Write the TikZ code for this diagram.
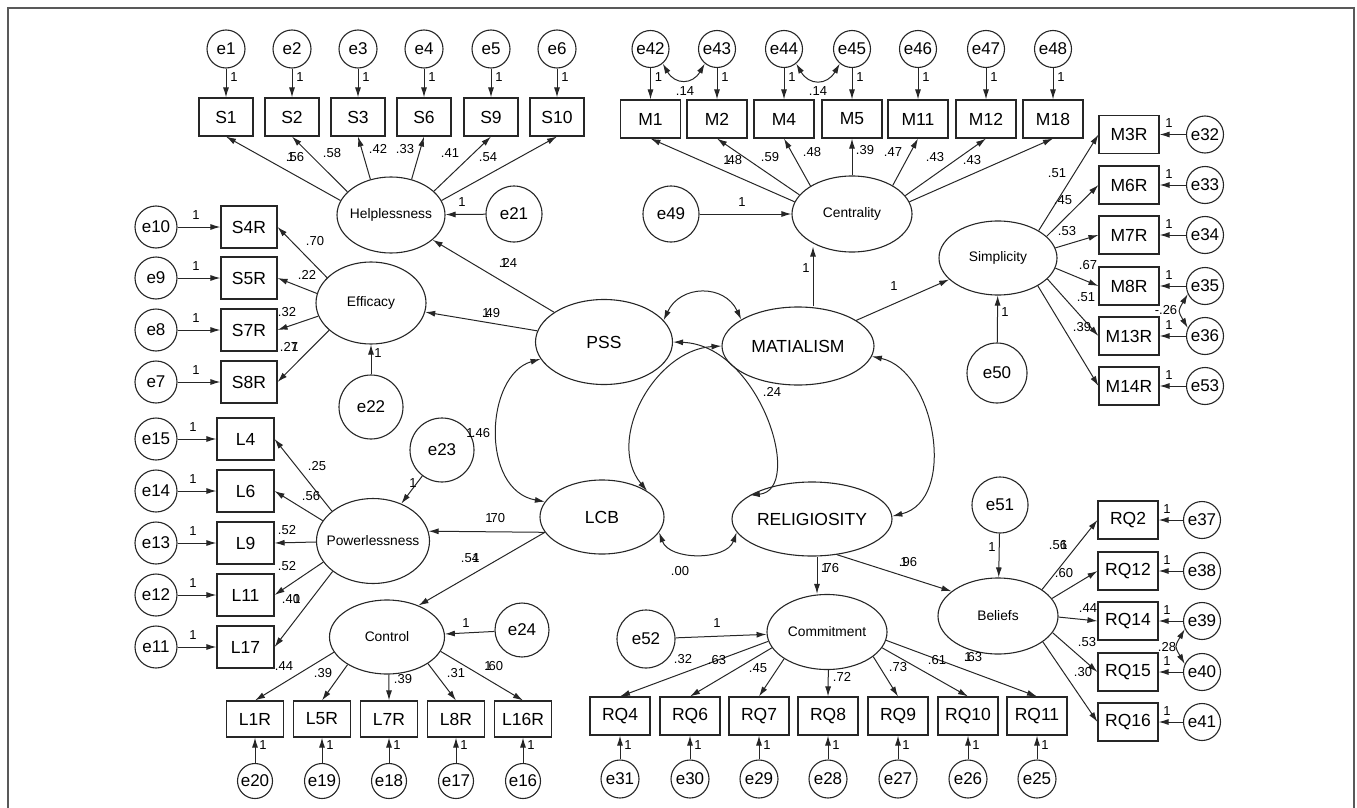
\documentclass[tikz,border=0pt]{standalone}
\usepackage{fontspec}
\setmainfont{Liberation Sans}
\usetikzlibrary{shapes.geometric,arrows.meta}
\newcount\labc
\newcommand\Lab[2]{\global\advance\labc by 1\relax\node[lab] (lab\the\labc) at (#1) {#2};}
\begin{document}
\begin{tikzpicture}[x=1pt,y=-1pt,
  lat/.style={ellipse, draw=black!85, line width=1.1pt, inner sep=0pt},
  err/.style={circle, draw=black!85, line width=1.1pt, inner sep=0pt},
  obs/.style={rectangle, draw=black!85, line width=1.1pt, inner sep=0pt, font=\fontsize{17.5}{18}\selectfont},
  lab/.style={inner sep=0pt, font=\fontsize{13}{13}\selectfont},
  efont/.style={font=\fontsize{17}{17}\selectfont},
  bigf/.style={font=\fontsize{17.5}{18}\selectfont},
  midf/.style={font=\fontsize{13.8}{14}\selectfont},
  arr/.style={line width=1pt, draw=black!85, -{Latex[length=10pt,width=6pt]}},
  cov/.style={line width=1pt, draw=black!85, {Latex[length=10pt,width=6pt]}-{Latex[length=10pt,width=6pt]}},
  borderline/.style={draw=black!65, line width=1.5pt}]
\useasboundingbox (0,0) rectangle (1357,808);
\draw[borderline] (8,808) -- (8,8) -- (1354,8) -- (1354,808);

% ---------- latent variables ----------
\node[lat,minimum width=108,minimum height=76,label={[midf]center:Helplessness}] (H) at (391,215) {};
\node[lat,minimum width=110,minimum height=82,label={[midf]center:Efficacy}] (Eff) at (371,303) {};
\node[lat,minimum width=113,minimum height=85,label={[midf]center:Powerlessness}] (Pow) at (373,541) {};
\node[lat,minimum width=115,minimum height=74,label={[midf]center:Control}] (Ctl) at (387,637) {};
\node[lat,minimum width=120,minimum height=76,label={[midf]center:Centrality}] (Cen) at (852,214) {};
\node[lat,minimum width=118,minimum height=74,label={[midf]center:Simplicity}] (Sim) at (998,258) {};
\node[lat,minimum width=120,minimum height=75,label={[midf]center:Commitment}] (Com) at (827,632) {};
\node[lat,minimum width=120,minimum height=76,label={[midf]center:Beliefs}] (Bel) at (998,616) {};
\node[lat,minimum width=137,minimum height=85,label={[bigf]center:PSS}] (PSS) at (604,342) {};
\node[lat,minimum width=152,minimum height=78,label={[bigf]center:MATIALISM}] (MAT) at (798,346) {};
\node[lat,minimum width=124,minimum height=74,label={[bigf]center:LCB}] (LCB) at (602,517) {};
\node[lat,minimum width=160,minimum height=74,label={[bigf]center:RELIGIOSITY}] (REL) at (812,519) {};

% ---------- disturbance terms ----------
\node[err,minimum size=56,label={[efont]center:e21}] (e21) at (514,214) {};
\node[err,minimum size=64,label={[efont]center:e22}] (e22) at (371,407) {};
\node[err,minimum size=64,label={[efont]center:e23}] (e23) at (442,450) {};
\node[err,minimum size=54,label={[efont]center:e24}] (e24) at (522,630) {};
\node[err,minimum size=56,label={[efont]center:e49}] (e49) at (671,214) {};
\node[err,minimum size=60,label={[efont]center:e50}] (e50) at (997,373) {};
\node[err,minimum size=56,label={[efont]center:e51}] (e51) at (1000,505) {};
\node[err,minimum size=58,label={[efont]center:e52}] (e52) at (646,639) {};

% ---------- indicators with errors ----------
\foreach \bx/\er/\x in {S1/e1/226,S2/e2/292,S3/e3/358,S6/e4/424,S9/e5/491,S10/e6/557}{
  \node[obs,minimum width=54,minimum height=38] (\bx) at (\x,117) {\bx};
  \node[err,minimum size=38,label={[efont]center:\er}] (\er) at (\x,49) {};
  \draw[arr] (\er) -- (\bx);
  \Lab{\x+8,77}{1}
}
\foreach \bx/\er/\y in {S4R/e10/227,S5R/e9/278,S7R/e8/330,S8R/e7/382}{
  \node[obs,minimum width=56,minimum height=42] (\bx) at (249,\y) {\bx};
  \node[err,minimum size=42,label={[efont]center:\er}] (\er) at (156,\y) {};
  \draw[arr] (\er) -- (\bx);
  \Lab{196,\y-12}{1}
}
\foreach \bx/\er/\y in {L4/e15/439,L6/e14/491,L9/e13/543,L11/e12/595,L17/e11/647}{
  \node[obs,minimum width=57,minimum height=42] (\bx) at (245.5,\y) {\bx};
  \node[err,minimum size=42,label={[efont]center:\er}] (\er) at (156,\y) {};
  \draw[arr] (\er) -- (\bx);
  \Lab{193,\y-12}{1}
}
\foreach \bx/\er/\x in {L1R/e20/255,L5R/e19/322,L7R/e18/389,L8R/e17/456,L16R/e16/523}{
  \node[obs,minimum width=57,minimum height=36] (\bx) at (\x,719) {\bx};
  \node[err,minimum size=35,label={[efont]center:\er}] (\er) at (\x,781) {};
  \draw[arr] (\er) -- (\bx);
  \Lab{\x+8,745}{1}
}
\foreach \bx/\er/\x in {M1/e42/650.5,M2/e43/717,M4/e44/784,M5/e45/852,M11/e46/918,M12/e47/986,M18/e48/1053}{
  \node[obs,minimum width=60,minimum height=38] (\bx) at (\x,119) {\bx};
  \node[err,minimum size=37,label={[efont]center:\er}] (\er) at (\x,49) {};
  \draw[arr] (\er) -- (\bx);
  \Lab{\x+8,77}{1}
}
\foreach \bx/\er/\y in {M3R/e32/134.5,M6R/e33/185,M7R/e34/235,M8R/e35/286,M13R/e36/336,M14R/e53/386}{
  \node[obs,minimum width=60,minimum height=38] (\bx) at (1129,\y) {\bx};
  \node[err,minimum size=37,label={[efont]center:\er}] (\er) at (1205,\y) {};
  \draw[arr] (\er) -- (\bx);
  \Lab{1169,\y-11}{1}
}
\foreach \bx/\er/\x in {RQ4/e31/620,RQ6/e30/690,RQ7/e29/759,RQ8/e28/828,RQ9/e27/898,RQ10/e26/968,RQ11/e25/1037}{
  \node[obs,minimum width=60,minimum height=38] (\bx) at (\x,716) {\bx};
  \node[err,minimum size=38,label={[efont]center:\er}] (\er) at (\x,779) {};
  \draw[arr] (\er) -- (\bx);
  \Lab{\x+8,745}{1}
}
\foreach \bx/\er/\y in {RQ2/e37/520,RQ12/e38/571,RQ14/e39/621,RQ15/e40/672,RQ16/e41/722}{
  \node[obs,minimum width=60,minimum height=38] (\bx) at (1128,\y) {\bx};
  \node[err,minimum size=37,label={[efont]center:\er}] (\er) at (1202,\y) {};
  \draw[arr] (\er) -- (\bx);
  \Lab{1167,\y-11}{1}
}

% ---------- loadings ----------
\foreach \bx/\a in {S1/164,S2/152,S3/120,S6/60,S9/29,S10/16} \draw[arr] (H.\a) -- (\bx.south);
\foreach \bx/\a in {S4R/150,S5R/170,S7R/194,S8R/213} \draw[arr] (Eff.\a) -- (\bx.east);
\foreach \bx/\a in {L4/144,L6/158,L9/181,L11/203,L17/217} \draw[arr] (Pow.\a) -- (\bx.east);
\foreach \bx/\a in {L1R/196,L5R/215,L7R/273,L8R/327,L16R/345} \draw[arr] (Ctl.\a) -- (\bx.north);
\foreach \bx/\a in {M1/168,M2/160,M4/146,M5/90,M11/35,M12/19,M18/12} \draw[arr] (Cen.\a) -- (\bx.south);
\foreach \bx/\a in {M3R/34,M6R/24,M7R/10,M8R/350,M13R/337,M14R/325} \draw[arr] (Sim.\a) -- (\bx.west);
\foreach \bx/\a in {RQ2/31,RQ12/18,RQ14/359,RQ15/343,RQ16/330} \draw[arr] (Bel.\a) -- (\bx.west);
\foreach \bx/\a in {RQ4/189,RQ6/196,RQ7/212,RQ8/272,RQ9/332,RQ10/344,RQ11/352} \draw[arr] (Com.\a) -- (\bx.north);

% ---------- disturbances to latents ----------
\draw[arr] (e21) -- (H);
\draw[arr] (e22) -- (Eff);
\draw[arr] (e23) -- (Pow);
\draw[arr] (e24) -- (Ctl);
\draw[arr] (e49) -- (Cen);
\draw[arr] (e50) -- (Sim);
\draw[arr] (e51) -- (Bel);
\draw[arr] (e52) -- (Com);

% ---------- structural paths ----------
\draw[arr] (PSS) -- (H);
\draw[arr] (PSS) -- (Eff);
\draw[arr] ([xshift=15pt]MAT.north) -- ([xshift=-39pt,yshift=6pt]Cen.south);
\draw[arr] (MAT) -- (Sim);
\draw[arr] (LCB.195) -- (Pow.10);
\draw[arr] (LCB.195) -- (Ctl.45);
\draw[arr] ([xshift=5pt]REL.south) -- ([xshift=-10pt]Com.north);
\draw[arr] (REL.305) -- (Bel.152);

% ---------- covariances ----------
\draw[cov] (PSS.20) to[out=65,in=115,looseness=1.3] (MAT.155);
\draw[cov] (PSS.east) .. controls (760,345) and (805,490) .. (REL.159);
\draw[cov] (MAT.west) .. controls (655,350) and (605,440) .. (LCB.30);
\draw[cov] (PSS.195) .. controls (485,375) and (480,490) .. (LCB.165);
\draw[cov] (MAT.352) .. controls (935,370) and (958,500) .. (REL.2);
\draw[cov] (LCB.345) to[out=-70,in=-110] (REL.190);
\draw[cov] (e42.310) to[out=-60,in=-120,looseness=1.5] (e43.230);
\draw[cov] (e44.310) to[out=-60,in=-120,looseness=1.5] (e45.230);
\draw[cov] (e35.205) to[out=240,in=120,looseness=1.5] (e36.155);
\draw[cov] (e39.205) to[out=240,in=120,looseness=1.5] (e40.155);

% ---------- estimates ----------
\Lab{295,157}{.56}\Lab{291,157}{1}
\Lab{332,153}{.58}
\Lab{378,149}{.42}
\Lab{405,149}{.33}
\Lab{450,153}{.41}
\Lab{488,157}{.54}
\Lab{462,202}{1}
\Lab{508,263}{.24}\Lab{504,263}{1}
\Lab{315,241}{.70}
\Lab{307,275}{.22}
\Lab{287,312}{.32}
\Lab{289,347}{.27}\Lab{295,347}{1}
\Lab{378,353}{1}
\Lab{491,313}{.49}\Lab{486,313}{1}
\Lab{317,466}{.25}
\Lab{311,496}{.56}
\Lab{287,530}{.52}
\Lab{287,566}{.52}
\Lab{291,599}{.40}\Lab{297,599}{1}
\Lab{284,666}{.44}
\Lab{413,483}{1}
\Lab{481,433}{.46}\Lab{470,433}{1}
\Lab{496,518}{.70}\Lab{489,518}{1}
\Lab{470,558}{.54}\Lab{476,558}{1}
\Lab{466,623}{1}
\Lab{323,673}{.39}
\Lab{403,679}{.39}
\Lab{456,673}{.31}
\Lab{494,666}{.60}\Lab{488,666}{1}
\Lab{685,91}{.14}
\Lab{818,91}{.14}
\Lab{733,160}{.48}\Lab{727,160}{1}
\Lab{770,157}{.59}
\Lab{812,152}{.48}
\Lab{865,150}{.39}
\Lab{893,152}{.47}
\Lab{935,157}{.43}
\Lab{972,160}{.43}
\Lab{742,202}{1}
\Lab{806,268}{1}
\Lab{894,286}{1}
\Lab{772,392}{.24}
\Lab{1057,173}{.51}
\Lab{1063,200}{.45}
\Lab{1067,231}{.53}
\Lab{1088,265}{.67}
\Lab{1086,297}{.51}
\Lab{1082,327}{.39}
\Lab{1166,310}{-.26}
\Lab{1005,312}{1}
\Lab{830,568}{.76}\Lab{825,568}{1}
\Lab{908,562}{.96}\Lab{904,562}{1}
\Lab{680,571}{.00}
\Lab{992,547}{1}
\Lab{1058,545}{.56}\Lab{1064,545}{1}
\Lab{1064,573}{.60}
\Lab{1088,608}{.44}
\Lab{1087,642}{.53}
\Lab{1083,672}{.30}
\Lab{1167,647}{.28}
\Lab{717,623}{1}
\Lab{683,659}{.32}
\Lab{717,660}{.63}
\Lab{758,668}{.45}
\Lab{842,677}{.72}
\Lab{898,667}{.73}
\Lab{937,660}{.61}
\Lab{973,657}{.63}\Lab{968,657}{1}
\end{tikzpicture}
\end{document}
